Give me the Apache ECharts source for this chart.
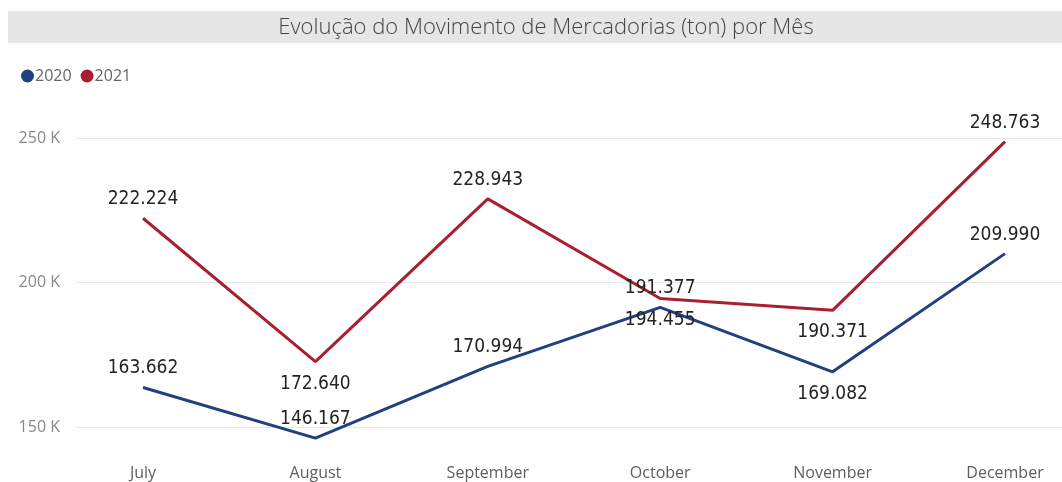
<!DOCTYPE html>
<html>
<head>
<meta charset="utf-8">
<script src="https://cdn.jsdelivr.net/npm/echarts@6/dist/echarts.min.js"></script>
<style>
  html, body { margin: 0; padding: 0; background: #fff; }
  #main { width: 1062px; height: 482px; }
</style>
</head>
<body>
<div id="main"></div>
<script>
// data
var months = ['July', 'August', 'September', 'October', 'November', 'December'];
var values2020 = [163662, 146167, 170994, 191377, 169082, 209990];
var values2021 = [222224, 172640, 228943, 194455, 190371, 248763];
// where each value label sits (power bi moved some of them)
var labelPos2020 = ['top', 'top', 'top', 'top', 'bottom', 'top'];
var labelPos2021 = ['top', 'bottom', 'top', 'bottom', 'bottom', 'top'];

var chartDom = document.getElementById('main');
var myChart = echarts.init(chartDom);

function fmtPt(v) {
  // 163662 -> 163.662
  return String(v).replace(/\B(?=(\d{3})+(?!\d))/g, '.');
}

function buildData(vals, pos) {
  var out = [];
  for (var i = 0; i < vals.length; i++) {
    out.push({
      value: vals[i],
      label: { position: pos[i], distance: pos[i] == 'top' ? 9 : 12 }
    });
  }
  return out;
}

var labelStyle = {
  show: true,
  fontFamily: 'DejaVu Sans Condensed',
  fontSize: 19,
  lineHeight: 20,
  color: '#252423',
  formatter: function (p) { return fmtPt(p.value); }
};

var option = {
  animation: false,
  graphic: [
    {
      type: 'rect',
      shape: { x: 8, y: 11, width: 1054, height: 32 },
      style: { fill: '#e6e6e6' },
      silent: true
    },
    {
      type: 'text',
      x: 546, y: 28,
      style: {
        text: 'Evolução do Movimento de Mercadorias (ton) por Mês',
        fontFamily: 'Open Sans',
        fontWeight: 300,
        fontSize: 22,
        fill: '#444',
        align: 'center',
        verticalAlign: 'middle'
      }
    }
  ],
  legend: {
    left: 16, top: 63,
    icon: 'circle',
    itemWidth: 13, itemHeight: 13,
    itemGap: 9,
    textStyle: { fontFamily: 'Open Sans', fontSize: 16, color: '#666', padding: [0, 0, 0, -4] },
    data: ['2020', '2021']
  },
  grid: [
    // grid 0 only carries the y labels and gridlines
    { left: 76, right: 0, top: 138, height: 289 },
    // grid 1 holds the lines, points ~172px apart
    { left: 143, right: 57, top: 138, height: 289 }
  ],
  xAxis: [
    { gridIndex: 0, type: 'category', data: months, show: false },
    {
      gridIndex: 1,
      type: 'category',
      data: months,
      boundaryGap: false,
      axisLine: { show: false },
      axisTick: { show: false },
      axisLabel: { fontFamily: 'Open Sans', fontSize: 16, color: '#605e5c', margin: 38 }
    }
  ],
  yAxis: [
    {
      gridIndex: 0,
      type: 'value',
      min: 150000, max: 250000, interval: 50000,
      axisLine: { show: false },
      axisTick: { show: false },
      splitLine: { lineStyle: { color: '#e9e9e9', width: 1 } },
      axisLabel: {
        fontFamily: 'Open Sans', fontSize: 16, color: '#8a8886', margin: 16,
        formatter: function (v) { return (v / 1000) + ' K'; }
      }
    },
    {
      gridIndex: 1,
      type: 'value',
      min: 150000, max: 250000, interval: 50000,
      show: false,
      splitLine: { show: false }
    }
  ],
  series: [
    {
      name: '2020',
      type: 'line',
      xAxisIndex: 1, yAxisIndex: 1,
      data: buildData(values2020, labelPos2020),
      symbol: 'circle',
      symbolSize: 0,
      showSymbol: true,
      clip: false,
      color: '#223f80',
      lineStyle: { width: 3, color: '#223f80' },
      label: labelStyle
    },
    {
      name: '2021',
      type: 'line',
      xAxisIndex: 1, yAxisIndex: 1,
      data: buildData(values2021, labelPos2021),
      symbol: 'circle',
      symbolSize: 0,
      showSymbol: true,
      clip: false,
      color: '#a8202f',
      lineStyle: { width: 3, color: '#a8202f' },
      label: labelStyle
    }
  ]
};

myChart.setOption(option);
</script>
</body>
</html>
